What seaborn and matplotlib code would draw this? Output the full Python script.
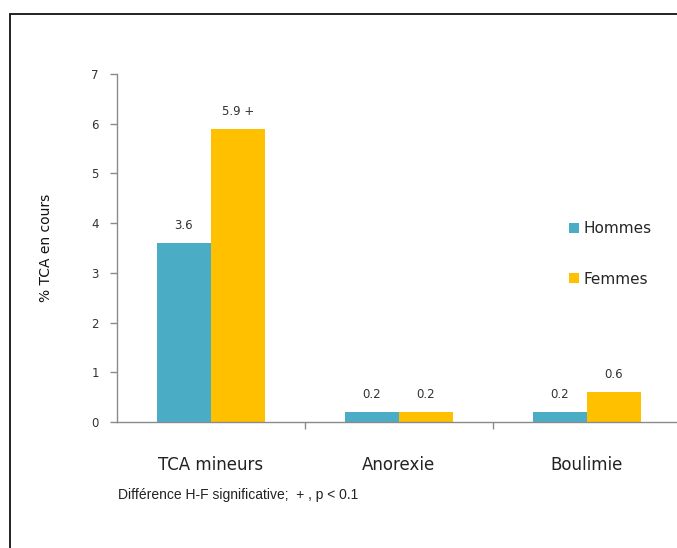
import matplotlib
matplotlib.use("Agg")
import matplotlib.pyplot as plt
import seaborn as sns
import pandas as pd
from matplotlib.patches import Rectangle
from matplotlib import font_manager

categories = ["TCA mineurs", "Anorexie", "Boulimie"]
hommes = [3.6, 0.2, 0.2]
femmes = [5.9, 0.2, 0.6]
hommes_labels = ["3.6", "0.2", "0.2"]
femmes_labels = ["5.9 +", "0.2", "0.6"]
series = ["Hommes", "Femmes"]
colors = ["#4bacc6", "#ffc000"]

df = pd.DataFrame({
    "cat": categories * 2,
    "val": hommes + femmes,
    "sexe": [series[0]] * 3 + [series[1]] * 3,
})

sns.set_style("white")
plt.rcParams["font.family"] = ["DejaVu Sans"]

names = {f.name for f in font_manager.fontManager.ttflist}
if "Liberation Sans Narrow" in names:
    foot_family, foot_size = "Liberation Sans Narrow", 11.5
else:
    foot_family, foot_size = "Liberation Sans", 10

fig = plt.figure(figsize=(6.77, 5.48), dpi=100)
ax = fig.add_axes([117/677, 1 - 422/548, (681 - 117)/677, (422 - 74)/548])

sns.barplot(data=df, x="cat", y="val", hue="sexe", palette=colors,
            order=categories, hue_order=series, width=0.575,
            saturation=1, ax=ax, edgecolor="none")

ax.set_ylim(0, 7)
ax.set_xlim(-0.5, 2.5)
ax.set_yticks(range(0, 8))
ax.set_xlabel("")
ax.set_ylabel("% TCA en cours", fontsize=10, color="#111111")
ax.yaxis.set_label_coords(-0.113, 0.5)

for s in ["top", "right"]:
    ax.spines[s].set_visible(False)
for s in ["left", "bottom"]:
    ax.spines[s].set_color("#8a8a8a")
    ax.spines[s].set_linewidth(1.0)

ax.tick_params(axis="y", which="major", left=True, length=5, width=1,
               color="#8a8a8a", labelsize=8.5, labelcolor="#333333", pad=8)
ax.tick_params(axis="x", which="major", bottom=False, labelsize=12,
               labelcolor="#222222", pad=21)
ax.set_xticks([0.5, 1.5], minor=True)
ax.tick_params(axis="x", which="minor", bottom=True, length=5, width=1,
               color="#8a8a8a")

for cont, labs in zip(ax.containers, [hommes_labels, femmes_labels]):
    ax.bar_label(cont, labels=labs, padding=8, fontsize=8.5, color="#333333")

sns.move_legend(ax, loc="center left", bbox_to_anchor=(555/677, 1 - 254/548),
                bbox_transform=fig.transFigure, frameon=False, title=None,
                labelspacing=2.3, handlelength=0.65, handleheight=0.65,
                handletextpad=0.3, fontsize=11)

fig.text(118/677, 1 - 495/548, "Différence H-F significative;  + , p < 0.1",
         fontsize=foot_size, color="#222222", va="center", ha="left",
         family=foot_family)

fig.patches.append(Rectangle((10/677, -0.1), 1.2, 1 - 14/548 + 0.1,
                             transform=fig.transFigure, fill=False,
                             edgecolor="#111111", linewidth=1.3))

fig.savefig("out.png", dpi=100)
